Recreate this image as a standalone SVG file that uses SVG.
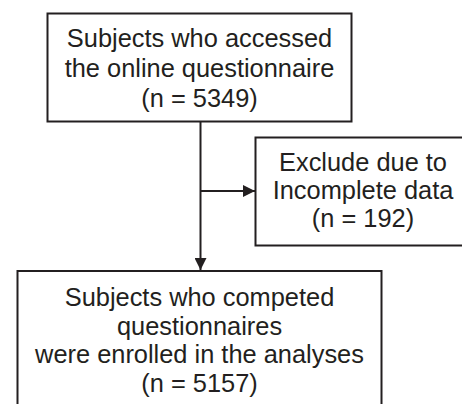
<svg xmlns="http://www.w3.org/2000/svg" width="462" height="404" viewBox="0 0 462 404">
<style>
.box{fill:#fff;stroke:#231f20;stroke-width:2}
.t{font-family:"Liberation Sans",Arial,sans-serif;font-size:25.4px;fill:#231f20;text-anchor:middle}
.ln{stroke:#231f20;stroke-width:2;fill:none}
</style>
<defs>
<marker id="ah" viewBox="0 0 12 12" refX="12" refY="6" markerWidth="12" markerHeight="12" markerUnits="userSpaceOnUse" orient="auto">
<path d="M0,0 L12,6 L0,12 Z" fill="#231f20"/>
</marker>
</defs>
<rect width="462" height="404" fill="#fff"/>
<g id="connectors">
<line class="ln" x1="200.5" y1="122" x2="200.5" y2="270" marker-end="url(#ah)"/>
<line class="ln" x1="200.5" y1="191" x2="255" y2="191" marker-end="url(#ah)"/>
</g>
<g id="n1">
<rect class="box" x="47.5" y="13.5" width="304" height="108"/>
<text class="t" x="199.5" y="46.5">Subjects who accessed</text>
<text class="t" x="199.5" y="77">the online questionnaire</text>
<text class="t" x="199.5" y="107">(n = 5349)</text>
</g>
<g id="n2">
<rect class="box" x="255.5" y="137.5" width="220" height="108"/>
<text class="t" x="363" y="170.5">Exclude due to</text>
<text class="t" x="363" y="199">Incomplete data</text>
<text class="t" x="363" y="227">(n = 192)</text>
</g>
<g id="n3">
<rect class="box" x="17.5" y="271" width="364" height="150"/>
<text class="t" x="199.5" y="306">Subjects who competed</text>
<text class="t" x="199.5" y="335">questionnaires</text>
<text class="t" x="199.5" y="363">were enrolled in the analyses</text>
<text class="t" x="199.5" y="392">(n = 5157)</text>
</g>
</svg>
